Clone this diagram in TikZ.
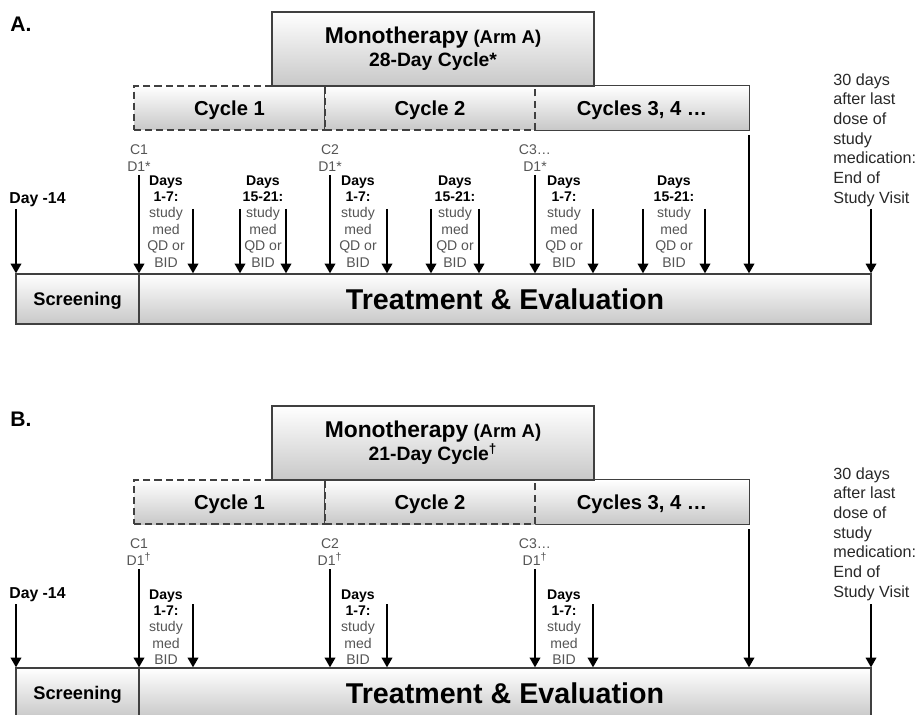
\documentclass[tikz,border=0pt]{standalone}
\usepackage{fontspec}
\setmainfont{Liberation Sans}
\usepackage{tikz}
\usetikzlibrary{arrows.meta,positioning,fit}
\definecolor{boxline}{RGB}{64,64,64}
\definecolor{shadegray}{RGB}{200,200,200}
\definecolor{notegray}{RGB}{85,85,85}
\definecolor{eosgray}{RGB}{40,40,40}
\newcommand{\dhead}[1]{\textcolor{black}{\textbf{#1}}}

\begin{document}
\begin{tikzpicture}[x=0.02cm,y=-0.02cm,
  boxln/.style={draw=boxline, line width=0.75pt, top color=white, bottom color=shadegray, inner sep=0pt},
  cycdash/.style={boxln, dash pattern=on 4pt off 2.3pt},
  boxtxt/.style={inner sep=0pt, text depth=0pt, font=\bfseries\fontsize{11.5}{13}\selectfont},
  monotxt/.style={inner sep=0pt, align=center, font=\bfseries\fontsize{11}{13}\selectfont},
  arr/.style={-{Triangle[width=6pt,length=5.5pt]}, line width=1pt},
  cmark/.style={align=center, inner sep=0pt, text=notegray, font=\fontsize{8}{9.5}\selectfont},
  daynote/.style={align=center, anchor=north, inner sep=0pt, text=notegray, font=\fontsize{8}{9.35}\selectfont},
  daylbl/.style={anchor=base west, inner sep=0pt, font=\bfseries\fontsize{9}{11}\selectfont},
  eosnote/.style={anchor=north west, align=left, inner sep=0pt, text=eosgray, font=\fontsize{9.2}{11.2}\selectfont},
  panel/.style={anchor=base west, inner sep=0pt, font=\bfseries\fontsize{12}{14}\selectfont}]
\useasboundingbox (0,0) rectangle (918,715);
\clip (0,0) rectangle (918,715);

% ---- A: 28-day cycle ----
\begin{scope}
  \node[panel] (panA) at (10,32) {A.};
  % cycle row, first two dashed
  \node[boxln, draw=none, fit={(535,86) (749,130)}] (cycA3) {};
  \draw[boxline, line width=0.75pt] (cycA3.north west) -- (cycA3.north east) -- (cycA3.south east) -- (cycA3.south west);
  \node[cycdash, fit={(134,86) (325,130)}] (cycA1) {};
  \node[cycdash, fit={(325,86) (535,130)}] (cycA2) {};
  \node[boxln, fit={(272,12) (594,86)}] (monoA) {};
  \node[boxtxt] (cycA1t) at (cycA1.center) {Cycle 1};
  \node[boxtxt] (cycA2t) at (cycA2.center) {Cycle 2};
  \node[boxtxt] (cycA3t) at (cycA3.center) {Cycles 3, 4 …};
  \node[monotxt] (monoAt) at (monoA.center) {{\fontsize{13}{13}\selectfont Monotherapy} {\fontsize{10.5}{13}\selectfont (Arm A)}\\28-Day Cycle*};
  % timeline bar
  \node[boxln, fit={(16,274) (139,324)}] (scrA) {};
  \node[boxln, fit={(139,274) (871,324)}] (trtA) {};
  \node[boxtxt, font=\bfseries\fontsize{10.4}{12}\selectfont] (scrAt) at (scrA.center) {Screening};
  \node[boxtxt, font=\bfseries\fontsize{16.3}{18}\selectfont] (trtAt) at (trtA.center) {Treatment \& Evaluation};
  % arrows onto the bar
  \foreach \x/\t [count=\i] in {16/209, 139/175, 193/209, 240/209, 286/209, 330/175, 387/209, 431/209, 479/209, 535/175, 593/209, 643/209, 705/209, 749/135, 871/209}
  {
    \coordinate (tA\i) at (\x,\t);
    \draw[arr] (tA\i) -- (tA\i |- trtA.north);
  }
  \node[daylbl] (d14A) at (9,204) {Day -14};
  \node[cmark, above=2pt of tA2] (c1A) {C1\\D1*};
  \node[cmark, above=2pt of tA6] (c2A) {C2\\D1*};
  \node[cmark, above=2pt of tA10] (c3A) {C3…\\D1*};
  \node[daynote] (dA1) at (166,175) {\dhead{Days}\\\dhead{1-7:}\\study\\med\\QD or\\BID};
  \node[daynote] (dA2) at (263,175) {\dhead{Days}\\\dhead{15-21:}\\study\\med\\QD or\\BID};
  \node[daynote] (dA3) at (358,175) {\dhead{Days}\\\dhead{1-7:}\\study\\med\\QD or\\BID};
  \node[daynote] (dA4) at (455,175) {\dhead{Days}\\\dhead{15-21:}\\study\\med\\QD or\\BID};
  \node[daynote] (dA5) at (564,175) {\dhead{Days}\\\dhead{1-7:}\\study\\med\\QD or\\BID};
  \node[daynote] (dA6) at (674,175) {\dhead{Days}\\\dhead{15-21:}\\study\\med\\QD or\\BID};
  \node[eosnote] (eosA) at (833,73) {30 days\\after last\\dose of\\study\\medication:\\End of\\Study Visit};
\end{scope}

% ---- B: 21-day cycle ----
\begin{scope}[shift={(0,394)}]
  \node[panel] (panB) at (10,32) {B.};
  \node[boxln, draw=none, fit={(535,86) (749,130)}] (cycB3) {};
  \draw[boxline, line width=0.75pt] (cycB3.north west) -- (cycB3.north east) -- (cycB3.south east) -- (cycB3.south west);
  \node[cycdash, fit={(134,86) (325,130)}] (cycB1) {};
  \node[cycdash, fit={(325,86) (535,130)}] (cycB2) {};
  \node[boxln, fit={(272,12) (594,86)}] (monoB) {};
  \node[boxtxt] (cycB1t) at (cycB1.center) {Cycle 1};
  \node[boxtxt] (cycB2t) at (cycB2.center) {Cycle 2};
  \node[boxtxt] (cycB3t) at (cycB3.center) {Cycles 3, 4 …};
  \node[monotxt] (monoBt) at (monoB.center) {{\fontsize{13}{13}\selectfont Monotherapy} {\fontsize{10.5}{13}\selectfont (Arm A)}\\21-Day Cycle\textsuperscript{†}};
  \node[boxln, fit={(16,274) (139,324)}] (scrB) {};
  \node[boxln, fit={(139,274) (871,324)}] (trtB) {};
  \node[boxtxt, font=\bfseries\fontsize{10.4}{12}\selectfont] (scrBt) at (scrB.center) {Screening};
  \node[boxtxt, font=\bfseries\fontsize{16.3}{18}\selectfont] (trtBt) at (trtB.center) {Treatment \& Evaluation};
  \foreach \x/\t [count=\i] in {16/210, 139/175, 193/210, 330/175, 387/210, 535/175, 593/210, 749/135, 871/210}
  {
    \coordinate (tB\i) at (\x,\t);
    \draw[arr] (tB\i) -- (tB\i |- trtB.north);
  }
  \node[daylbl] (d14B) at (9,204) {Day -14};
  \node[cmark, above=2pt of tB2] (c1B) {C1\\D1\textsuperscript{†}};
  \node[cmark, above=2pt of tB4] (c2B) {C2\\D1\textsuperscript{†}};
  \node[cmark, above=2pt of tB6] (c3B) {C3…\\D1\textsuperscript{†}};
  \node[daynote] (dB1) at (166,195) {\dhead{Days}\\\dhead{1-7:}\\study\\med\\BID};
  \node[daynote] (dB2) at (358,195) {\dhead{Days}\\\dhead{1-7:}\\study\\med\\BID};
  \node[daynote] (dB3) at (564,195) {\dhead{Days}\\\dhead{1-7:}\\study\\med\\BID};
  \node[eosnote] (eosB) at (833,73) {30 days\\after last\\dose of\\study\\medication:\\End of\\Study Visit};
\end{scope}
\end{tikzpicture}
\end{document}
